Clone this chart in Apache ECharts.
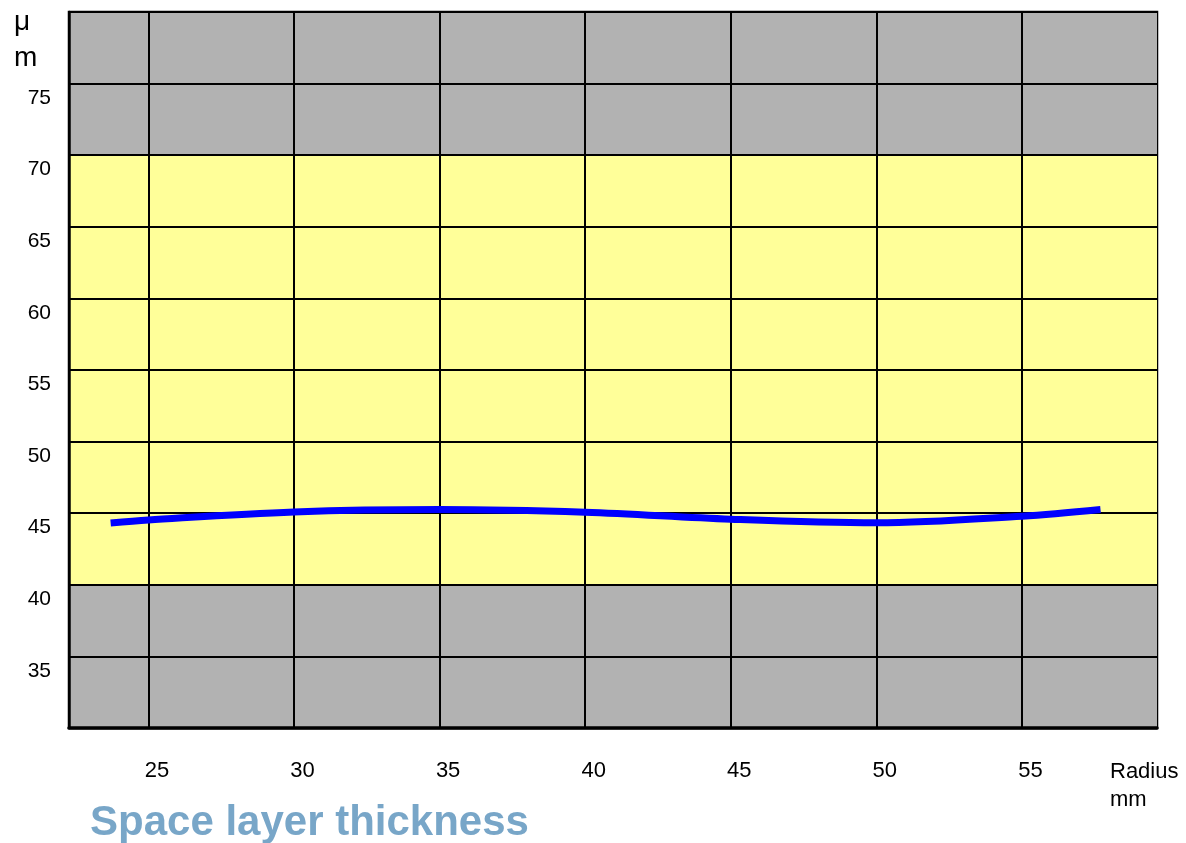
<!DOCTYPE html>
<html>
<head>
<meta charset="utf-8">
<script src="https://cdn.jsdelivr.net/npm/echarts@6/dist/echarts.min.js"></script>
<style>
html,body{margin:0;padding:0;background:#fff;}
#chart{width:1186px;height:843px;}
</style>
</head>
<body>
<div id="chart"></div>
<script>
// ---- data ----
const radius = [23.7, 25, 30, 35, 40, 45, 50, 55, 57.7];          // mm
const thickness = [44.32, 44.53, 45.09, 45.26, 45.07, 44.58, 44.33, 44.79, 45.26]; // µm
const xTickValues = [25, 30, 35, 40, 45, 50, 55];
const xRange = [22.27, 59.64];
const yRange = [30, 80];
const yStep = 5;
const toleranceBand = [40, 70];   // yellow band, outside is grey
const titleText = 'Space layer thickness';
const yUnit = ['μ', 'm'];
const xUnit = 'Radius\nmm';

const FONT = '"Liberation Sans", Arial, sans-serif';
const GREY = '#b2b2b2';
const YELLOW = '#ffff99';

// colours of the y split areas, one per interval
const areaColors = [];
for (let v = yRange[0]; v < yRange[1]; v += yStep) {
  areaColors.push(v >= toleranceBand[0] && v < toleranceBand[1] ? YELLOW : GREY);
}

const chart = echarts.init(document.getElementById('chart'), null, {renderer: 'canvas'});
chart.setOption({
  animation: false,
  backgroundColor: '#ffffff',
  grid: {
    left: 69, right: 29, top: 12, bottom: 115,
    show: true, borderColor: '#000', borderWidth: 2.5, backgroundColor: 'transparent'
  },
  xAxis: {
    type: 'value',
    min: xRange[0], max: xRange[1],
    axisLine: {show: true, onZero: false, lineStyle: {color: '#000', width: 3.5}},
    axisTick: {show: false, customValues: xTickValues},
    axisLabel: {
      customValues: xTickValues,
      color: '#000', fontFamily: FONT, fontSize: 22,
      margin: 32, padding: [0, 0, 0, 17]
    },
    splitLine: {show: true, lineStyle: {color: '#000', width: 2}},
    splitArea: {show: false}
  },
  yAxis: {
    type: 'value',
    min: yRange[0], max: yRange[1], interval: yStep,
    axisLine: {show: true, lineStyle: {color: '#000', width: 2.5}},
    axisTick: {show: false},
    axisLabel: {
      color: '#000', fontFamily: FONT, fontSize: 21,
      margin: 18, verticalAlign: 'top', padding: [4, 0, 0, 0],
      showMinLabel: false, showMaxLabel: false
    },
    splitLine: {show: true, lineStyle: {color: '#000', width: 2}},
    splitArea: {show: true, areaStyle: {color: areaColors, opacity: 1}}
  },
  series: [{
    type: 'line',
    data: radius.map((r, i) => [r, thickness[i]]),
    smooth: 0.35,
    showSymbol: false,
    symbol: 'none',
    z: 5,
    lineStyle: {color: '#0000ff', width: 7, cap: 'butt'}
  }],
  graphic: [
    {type: 'text', left: 14, top: 8, z: 10,
     style: {text: yUnit[0], font: '28px ' + FONT, fill: '#000'}},
    {type: 'text', left: 14, top: 44, z: 10,
     style: {text: yUnit[1], font: '28px ' + FONT, fill: '#000'}},
    {type: 'text', left: 1110, top: 758, z: 10,
     style: {text: xUnit, font: '22px ' + FONT, fill: '#000', lineHeight: 28}},
    {type: 'text', left: 90, top: 802, z: 10,
     style: {text: titleText, font: 'bold 42px ' + FONT, fill: '#78a6c8'}}
  ]
});
</script>
</body>
</html>
